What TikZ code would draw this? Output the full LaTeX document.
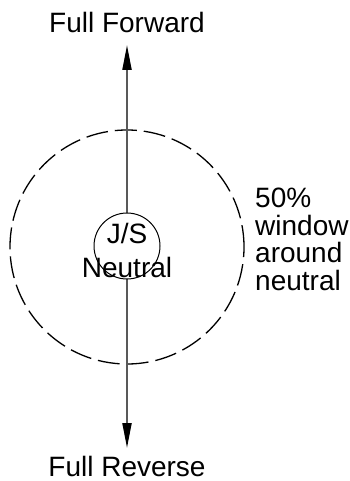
\documentclass[tikz,border=0pt]{standalone}
\usepackage{fontspec}
\setmainfont{Liberation Sans}
\usetikzlibrary{arrows.meta}
\begin{document}
\begin{tikzpicture}[x=1pt,y=-1pt]
\tikzstyle{every node}+=[inner sep=0pt, font=\fontsize{28}{27.5}\selectfont]
\useasboundingbox (0,0) rectangle (350,481);
\node [anchor=base] (fwd) at (127,33) {Full Forward};
\node [anchor=base] (rev) at (127,476) {Full Reverse};
\coordinate (top) at (127,45);
\coordinate (bot) at (127,448);
\node [circle, draw=black, line width=1.3pt, dash pattern=on 22pt off 7pt, minimum size=234pt] (window) at (127,247) {};
\draw [line width=2pt, black!65, {Triangle[length=25pt,width=9pt,black]}-{Triangle[length=25pt,width=9pt,black]}] (top) -- (bot);
\node [circle, draw=black, fill=white, line width=1pt, minimum size=66pt] (jscircle) at (127,246) {};
\node [anchor=base] (js) at (127,243) {J/S};
\node [anchor=base] (neutral) at (127,277) {Neutral};
\node [anchor=base west, align=left] (pct) at (255,290) {50\%\\window\\around\\neutral};
\end{tikzpicture}
\end{document}
